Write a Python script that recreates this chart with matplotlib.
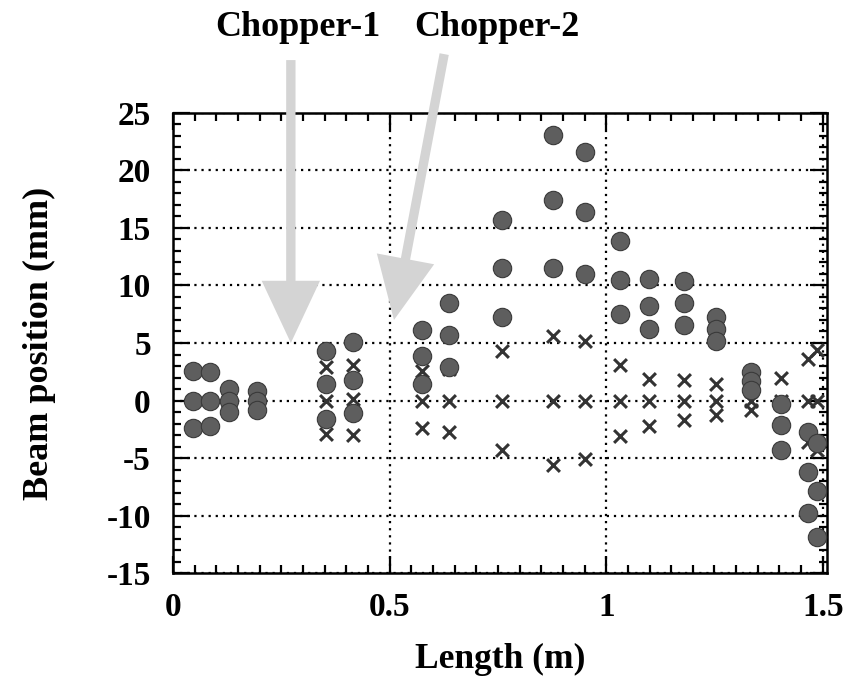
import numpy as np
import matplotlib
matplotlib.use('Agg')
import matplotlib.pyplot as plt
from matplotlib.ticker import MultipleLocator

plt.rcParams['font.family'] = ['Liberation Serif', 'DejaVu Serif']
plt.rcParams['font.weight'] = 'bold'
plt.rcParams['axes.unicode_minus'] = False

# beam positions: column x (m) and y values (mm)
circle_cols = [0.045, 0.085, 0.13, 0.195, 0.353, 0.415, 0.574, 0.636, 0.759, 0.877,
               0.952, 1.031, 1.099, 1.179, 1.254, 1.335, 1.403, 1.467, 1.487]
circle_vals = [[2.6, 0, -2.4], [2.5, 0, -2.2], [1.0, 0, -1.0], [0.8, 0, -0.8],
               [4.3, 1.45, -1.6], [5.1, 1.8, -1.1], [6.1, 3.9, 1.4], [8.5, 5.7, 2.9],
               [15.7, 11.5, 7.3], [23.1, 17.4, 11.5], [21.6, 16.4, 11.0],
               [13.9, 10.5, 7.5], [10.6, 8.2, 6.2], [10.4, 8.5, 6.6],
               [7.3, 6.25, 5.2], [2.5, 1.7, 0.9], [-0.3, -2.1, -4.3],
               [-2.7, -6.2, -9.8], [-3.7, -7.9, -11.9]]

cross_cols = [0.353, 0.415, 0.574, 0.636, 0.759, 0.877, 0.952, 1.031, 1.099,
              1.179, 1.254, 1.335, 1.403, 1.467, 1.487]
cross_vals = [[2.9, 0, -2.95], [3.1, 0.1, -3.0], [2.6, 0, -2.35], [2.7, 0, -2.7],
              [4.3, 0, -4.3], [5.6, 0, -5.6], [5.2, 0, -5.1], [3.1, 0, -3.1],
              [1.9, 0, -2.2], [1.75, 0, -1.7], [1.4, 0, -1.3], [0.8, 0, -0.8],
              [2.0, 0, -2.0], [3.6, 0, -3.6], [4.4, 0, -4.3]]

choppers = ['Chopper-1', 'Chopper-2']
chopper_x = [0.272, 0.51]
chopper_y = [5.0, 7.0]

cx = [x for x, v in zip(circle_cols, circle_vals) for _ in v]
cy = [y for v in circle_vals for y in v]
xx = [x for x, v in zip(cross_cols, cross_vals) for _ in v]
xy = [y for v in cross_vals for y in v]

fig = plt.figure(figsize=(8.44, 6.86), dpi=100)
ax = fig.add_axes([0.205, 0.1647, 0.775, 0.6706])

ax.scatter(xx, xy, marker='x', s=85, color='#333333', linewidths=2.2, zorder=3)
ax.scatter(cx, cy, marker='o', s=175, facecolor='#5e5e5e', edgecolor='#3a3a3a',
           linewidths=0.8, zorder=4)

ax.set_xlim(0, 1.51)
ax.set_ylim(-15, 25)
ax.xaxis.set_minor_locator(MultipleLocator(0.05))
ax.yaxis.set_major_locator(MultipleLocator(5))
ax.yaxis.set_minor_locator(MultipleLocator(1))
ax.set_xticks([0, 0.5, 1, 1.5])
ax.set_xticklabels(['0', '0.5', '1', '1.5'])
ax.tick_params(which='both', direction='in', top=True, right=True, width=1.6,
               labelsize=24)
ax.tick_params(axis='x', pad=14)
ax.tick_params(axis='y', pad=16)
ax.tick_params(which='major', length=12)
ax.tick_params(which='minor', length=6)
for s in ax.spines.values():
    s.set_linewidth(1.8)
ax.grid(True, which='major', color='black', linestyle=(0, (1, 2.2)), linewidth=1.6)

ax.set_xlabel('Length (m)', fontsize=25.5, fontweight='bold', labelpad=14)
ax.set_ylabel('Beam position (mm)', fontsize=26, fontweight='bold', labelpad=36)

# chopper arrows
starts = [(0.272, 1.115), (0.626, 1.128)]
for name, x0, y0, (sx, sy) in zip(choppers, chopper_x, chopper_y, starts):
    ax.annotate('', xy=(x0, y0), xycoords='data',
                xytext=(sx, sy), textcoords=('data', 'axes fraction'),
                annotation_clip=False,
                arrowprops=dict(arrowstyle='simple,head_length=1.6,head_width=1.5,tail_width=0.24',
                                fc='#d4d4d4', ec='none', mutation_scale=28,
                                shrinkA=0, shrinkB=0),
                zorder=10)
fig.text(298 / 844, 1 - 28 / 686, choppers[0], ha='center', va='center',
         fontsize=26, fontweight='bold')
fig.text(497 / 844, 1 - 28 / 686, choppers[1], ha='center', va='center',
         fontsize=26, fontweight='bold')

fig.savefig('out.png', dpi=100)
